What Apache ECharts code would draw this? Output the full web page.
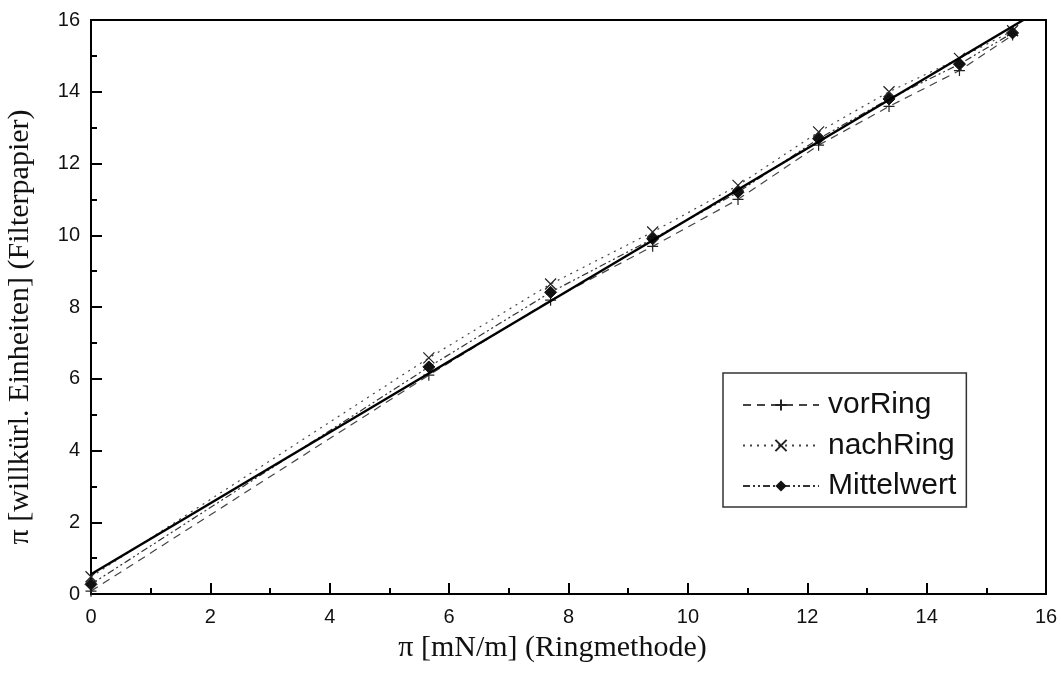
<!DOCTYPE html>
<html>
<head>
<meta charset="utf-8">
<script src="https://cdn.jsdelivr.net/npm/echarts@6/dist/echarts.min.js"></script>
<style>html,body{margin:0;padding:0;background:#fff}#c{width:1061px;height:673px}</style>
</head>
<body>
<div id="c"></div>
<script>
const xRing = [0, 5.66, 7.70, 9.41, 10.84, 12.19, 13.37, 14.55, 15.44];
const vorRing = [0.08, 6.10, 8.19, 9.69, 11.00, 12.51, 13.59, 14.59, 15.58];
const nachRing = [0.48, 6.58, 8.64, 10.09, 11.39, 12.88, 14.00, 14.93, 15.70];
const mittelwert = [0.27, 6.33, 8.41, 9.90, 11.20, 12.69, 13.80, 14.77, 15.64];
const fitX = [0, 15.62];
const fitY = [0.55, 16];
const seriesNames = ['vorRing', 'nachRing', 'Mittelwert'];

const pair = (xs, ys) => xs.map((x, i) => [x, ys[i]]);
const plusPath = 'path://M5,0 L5,10 M0,5 L10,5';
const crossPath = 'path://M0,0 L10,10 M10,0 L0,10';

const chart = echarts.init(document.getElementById('c'));
const axisCommon = {
  type: 'value', min: 0, max: 16, interval: 2,
  axisLine: { show: true, lineStyle: { color: '#000', width: 2 } },
  axisTick: { show: true, inside: true, length: 11, lineStyle: { color: '#000', width: 2 } },
  minorTick: { show: true, splitNumber: 2, length: 6, lineStyle: { color: '#000', width: 2 } },
  splitLine: { show: false },
  axisLabel: { color: '#111', fontSize: 20, fontFamily: 'Liberation Sans, Arial, sans-serif' },
  nameLocation: 'middle',
  nameTextStyle: { color: '#111', fontSize: 30, fontFamily: 'Liberation Serif, Times New Roman, serif' }
};
chart.setOption({
  animation: false,
  backgroundColor: '#fff',
  grid: { left: 91, right: 15, top: 20, bottom: 79, containLabel: false, outerBoundsMode: 'none', show: true, borderColor: '#000', borderWidth: 2, backgroundColor: 'transparent' },
  xAxis: Object.assign({}, axisCommon, {
    name: 'π [mN/m] (Ringmethode)', nameGap: 39,
    nameTextStyle: Object.assign({}, axisCommon.nameTextStyle, { padding: [0, 32, 0, 0] }),
    axisLabel: Object.assign({}, axisCommon.axisLabel, { margin: 13 })
  }),
  yAxis: Object.assign({}, axisCommon, {
    name: 'π [willkürl. Einheiten] (Filterpapier)', nameGap: 56,
    nameTextStyle: Object.assign({}, axisCommon.nameTextStyle, { padding: [0, 40, 0, 0] }),
    axisLabel: Object.assign({}, axisCommon.axisLabel, { margin: 11 })
  }),
  legend: {
    data: seriesNames,
    orient: 'vertical',
    left: 723, top: 373,
    itemWidth: 76, itemHeight: 14, itemGap: 10.5,
    padding: [17, 10, 6, 19],
    borderColor: '#333', borderWidth: 1.5,
    textStyle: { color: '#111', fontSize: 30, fontFamily: 'Liberation Sans, Arial, sans-serif', padding: [0, 0, 0, 4] }
  },
  series: [
    {
      name: 'vorRing', type: 'line', data: pair(xRing, vorRing),
      symbol: plusPath, symbolSize: 11,
      lineStyle: { color: '#444', width: 1.2, type: [8, 6] },
      itemStyle: { color: 'transparent', borderColor: '#222', borderWidth: 1.2 },
      z: 3
    },
    {
      name: 'nachRing', type: 'line', data: pair(xRing, nachRing),
      symbol: crossPath, symbolSize: 11,
      lineStyle: { color: '#444', width: 1.2, type: [2, 5] },
      itemStyle: { color: 'transparent', borderColor: '#222', borderWidth: 1.2 },
      z: 3
    },
    {
      name: 'Mittelwert', type: 'line', data: pair(xRing, mittelwert),
      symbol: 'diamond', symbolSize: 12,
      lineStyle: { color: '#333', width: 1.2, type: [7, 3, 2, 3, 2, 3] },
      itemStyle: { color: '#111', borderColor: '#111' },
      z: 4
    },
    {
      name: 'fit', type: 'line', data: pair(fitX, fitY),
      symbol: 'none', lineStyle: { color: '#000', width: 2.5 },
      z: 5, silent: true
    }
  ]
});
</script>
</body>
</html>
